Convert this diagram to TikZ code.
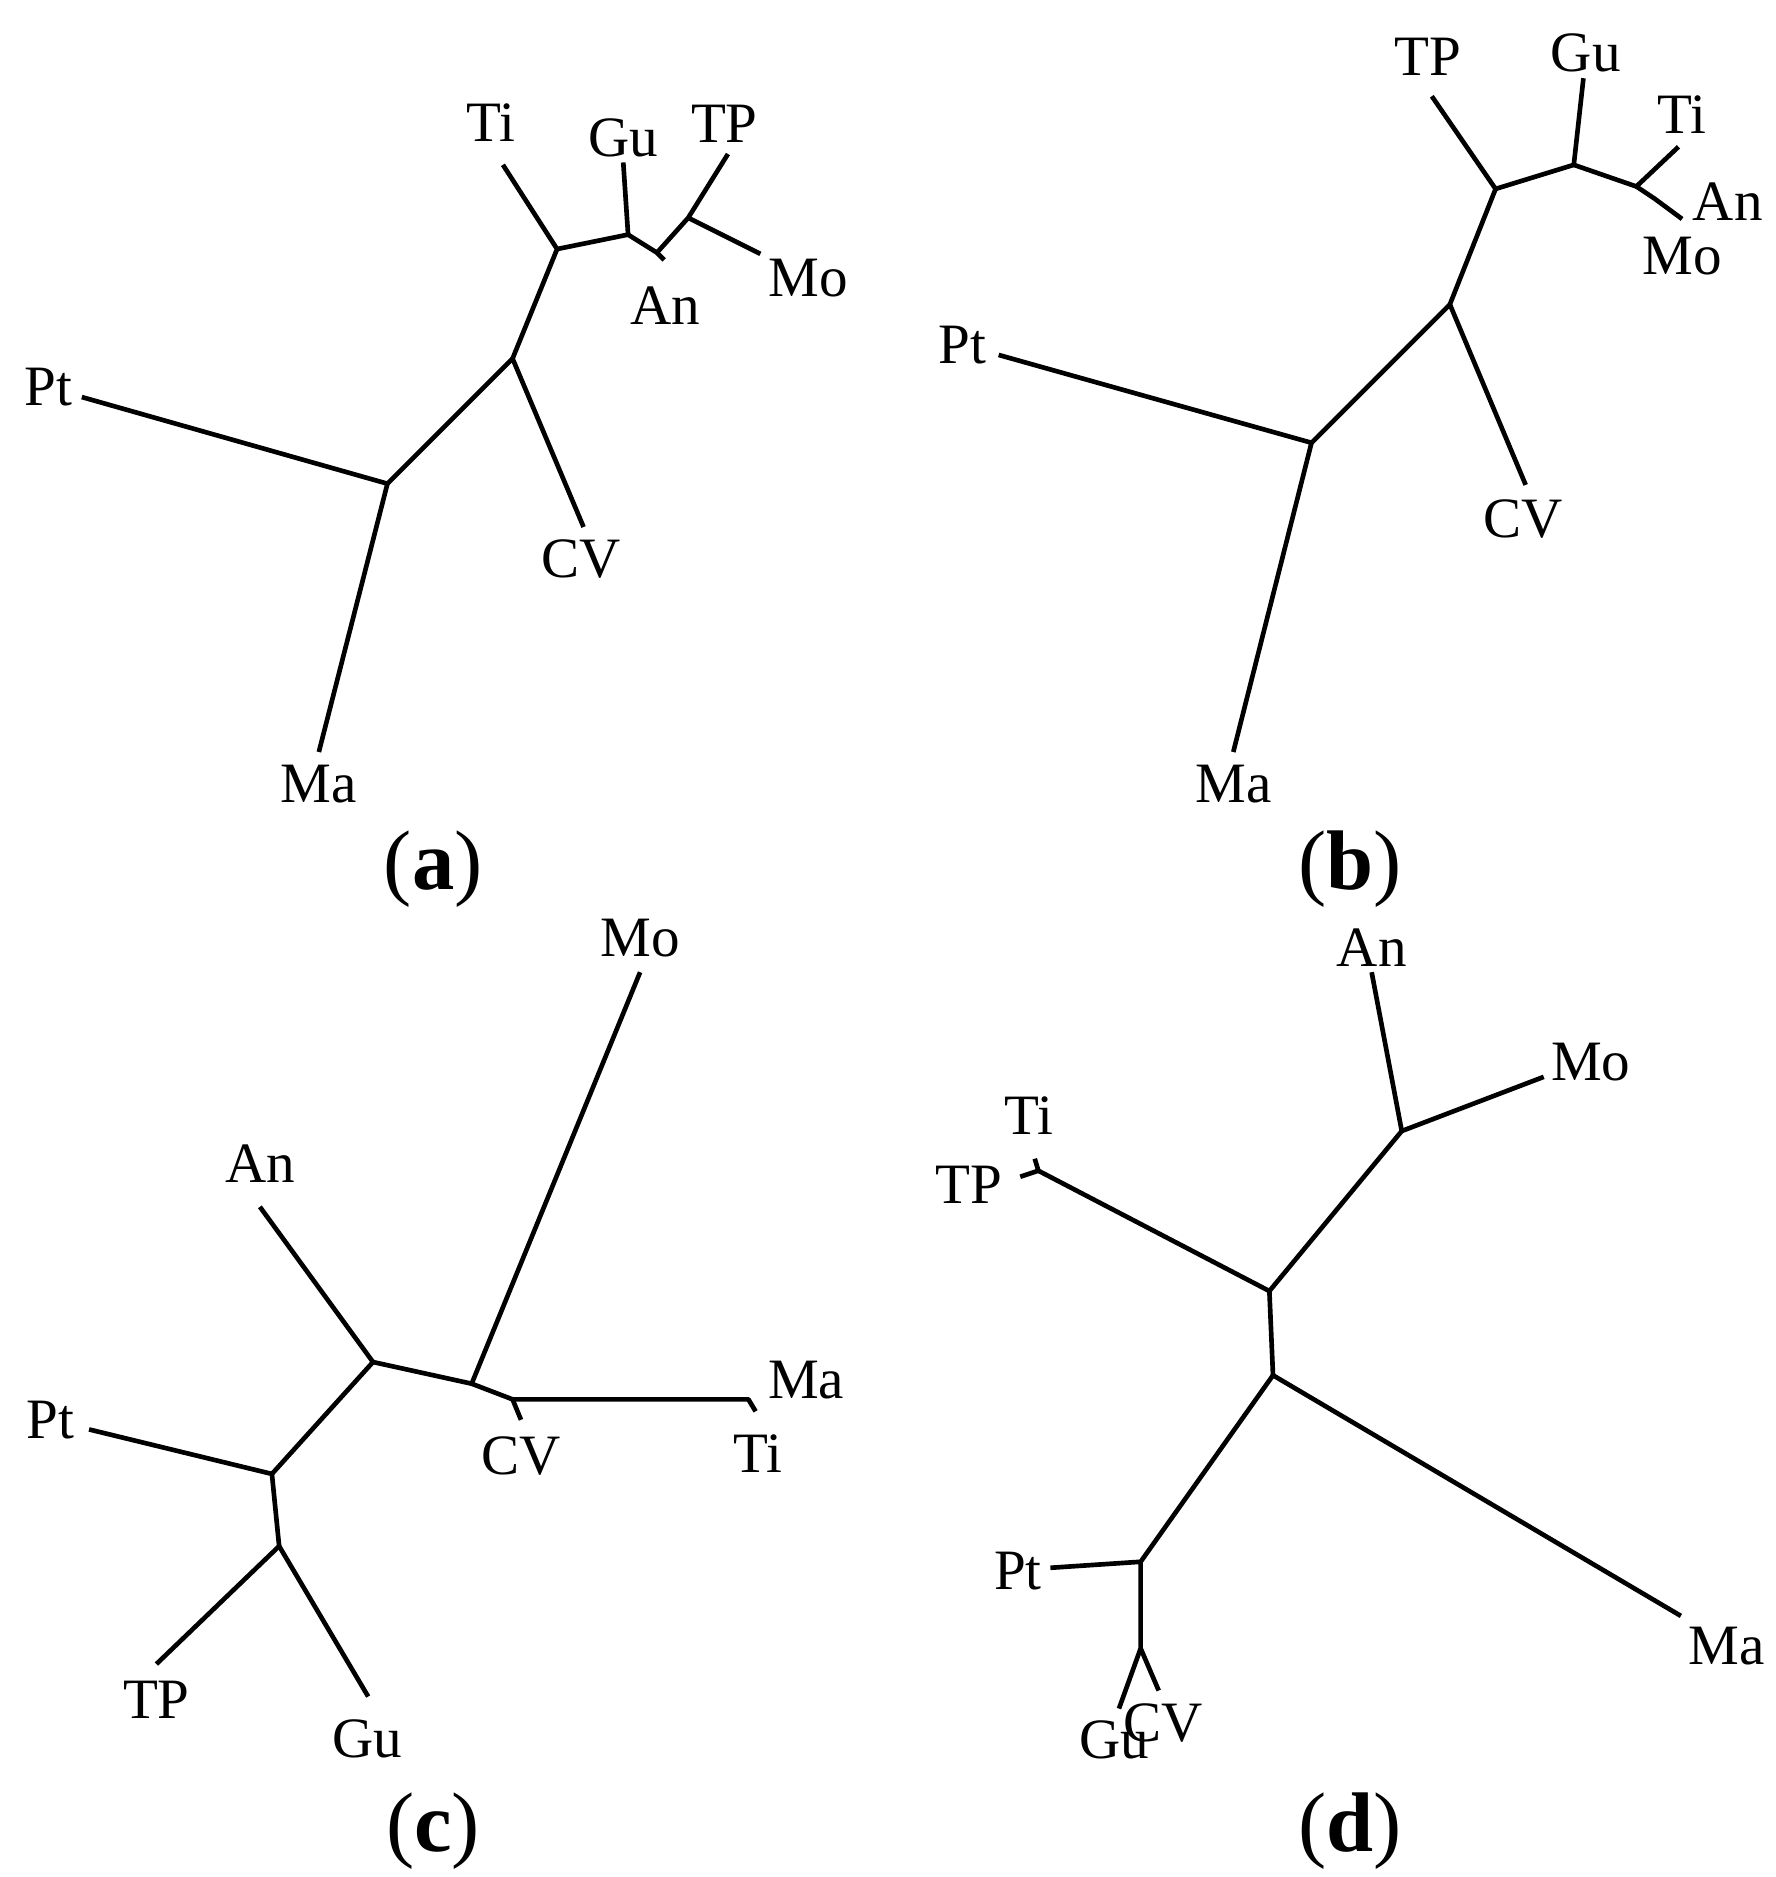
\documentclass[tikz,border=0pt]{standalone}
\usepackage{fontspec}
\setmainfont{Liberation Serif}
\begin{document}
\begin{tikzpicture}[x=0.1mm, y=-0.1mm, line width=1.1pt, line join=round,
  taxon/.style = {font=\fontsize{13.5}{16}\selectfont, inner sep=0pt},
  panel/.style = {font=\fontsize{20}{24}\selectfont, inner sep=0pt}]
\useasboundingbox (0,0) rectangle (1476,1560);
% (a)
\coordinate (a1) at (322,402); \coordinate (a2) at (426,298);
\coordinate (a3) at (463,207); \coordinate (a4) at (522,195);
\coordinate (a5) at (546,210); \coordinate (a6) at (572,181);
\coordinate (aPt) at (68,330); \coordinate (aMa) at (265,625);
\coordinate (aCV) at (485,438); \coordinate (aTi) at (418,137);
\coordinate (aGu) at (518,135); \coordinate (aAn) at (552,216);
\coordinate (aTP) at (605,128); \coordinate (aMo) at (632,211);
\draw (aPt) -- (a1) -- (aMa);
\draw (a1) -- (a2) -- (aCV);
\draw (a2) -- (a3) -- (aTi);
\draw (a3) -- (a4) -- (aGu);
\draw (a4) -- (a5) -- (aAn);
\draw (a5) -- (a6) -- (aTP);
\draw (a6) -- (aMo);
\node[taxon] (lPta) at (40,322) {Pt};
\node[taxon] (lMaa) at (265,652) {Ma};
\node[taxon] (lCVa) at (483,465) {CV};
\node[taxon] (lTia) at (408,102) {Ti};
\node[taxon] (lGua) at (518,115) {Gu};
\node[taxon] (lAna) at (553,254) {An};
\node[taxon] (lTPa) at (602,103) {TP};
\node[taxon] (lMoa) at (672,231) {Mo};
\node[panel] (pa) at (360,722) {(\textbf{a})};
% (b)
\coordinate (b1) at (1090,368); \coordinate (b2) at (1205,253);
\coordinate (b3) at (1243,157); \coordinate (b4) at (1308,137);
\coordinate (b5) at (1360,155); \coordinate (b6) at (1375,165);
\coordinate (bPt) at (830,295); \coordinate (bMa) at (1025,625);
\coordinate (bCV) at (1268,403); \coordinate (bTP) at (1190,80);
\coordinate (bGu) at (1316,65); \coordinate (bTi) at (1395,122);
\coordinate (bAn) at (1398,182);
\draw (bPt) -- (b1) -- (bMa);
\draw (b1) -- (b2) -- (bCV);
\draw (b2) -- (b3) -- (bTP);
\draw (b3) -- (b4) -- (bGu);
\draw (b4) -- (b5) -- (bTi);
\draw (b5) -- (b6) -- (bAn);
\node[taxon] (lPtb) at (800,287) {Pt};
\node[taxon] (lMab) at (1025,652) {Ma};
\node[taxon] (lCVb) at (1266,431) {CV};
\node[taxon] (lTPb) at (1187,47) {TP};
\node[taxon] (lGub) at (1318,44) {Gu};
\node[taxon] (lTib) at (1398,95) {Ti};
\node[taxon] (lAnb) at (1436,168) {An};
\node[taxon] (lMob) at (1398,213) {Mo};
\node[panel] (pb) at (1122,722) {(\textbf{b})};
% (c)
\coordinate (c1) at (226,1225); \coordinate (c2) at (232,1285);
\coordinate (c3) at (310,1132); \coordinate (c4) at (392,1150);
\coordinate (c5) at (426,1163); \coordinate (c6) at (622,1163);
\coordinate (cPt) at (74,1188); \coordinate (cTP) at (130,1383);
\coordinate (cGu) at (306,1410); \coordinate (cAn) at (216,1003);
\coordinate (cMo) at (532,808); \coordinate (cCV) at (433,1180);
\coordinate (cMa) at (628,1173);
\draw (cPt) -- (c1) -- (c2) -- (cTP);
\draw (c2) -- (cGu);
\draw (c1) -- (c3) -- (cAn);
\draw (c3) -- (c4) -- (cMo);
\draw (c4) -- (c5) -- (cCV);
\draw (c5) -- (c6) -- (cMa);
\node[taxon] (lPtc) at (42,1180) {Pt};
\node[taxon] (lTPc) at (130,1413) {TP};
\node[taxon] (lGuc) at (305,1445) {Gu};
\node[taxon] (lAnc) at (216,967) {An};
\node[taxon] (lMoc) at (532,780) {Mo};
\node[taxon] (lCVc) at (433,1210) {CV};
\node[taxon] (lMac) at (670,1147) {Ma};
\node[taxon] (lTic) at (630,1208) {Ti};
\node[panel] (pc) at (360,1522) {(\textbf{c})};
% (d)
\coordinate (d1) at (1055,1073); \coordinate (d2) at (1058,1143);
\coordinate (d3) at (1165,940); \coordinate (d4) at (863,973);
\coordinate (d5) at (948,1298); \coordinate (d6) at (948,1370);
\coordinate (dAn) at (1140,808); \coordinate (dMo) at (1283,895);
\coordinate (dTi) at (860,963); \coordinate (dTP) at (848,978);
\coordinate (dMa) at (1397,1343); \coordinate (dPt) at (873,1303);
\coordinate (dGu) at (930,1420); \coordinate (dCV) at (963,1405);
\draw (d1) -- (d2);
\draw (d1) -- (d3) -- (dAn);
\draw (d3) -- (dMo);
\draw (d1) -- (d4) -- (dTi);
\draw (d4) -- (dTP);
\draw (d2) -- (dMa);
\draw (d2) -- (d5) -- (dPt);
\draw (d5) -- (d6) -- (dGu);
\draw (d6) -- (dCV);
\node[taxon] (lAnd) at (1140,788) {An};
\node[taxon] (lMod) at (1322,883) {Mo};
\node[taxon] (lTid) at (855,927) {Ti};
\node[taxon] (lTPd) at (805,985) {TP};
\node[taxon] (lMad) at (1435,1368) {Ma};
\node[taxon] (lPtd) at (846,1306) {Pt};
\node[taxon] (lGud) at (926,1446) {Gu};
\node[taxon] (lCVd) at (967,1432) {CV};
\node[panel] (pd) at (1122,1522) {(\textbf{d})};
\end{tikzpicture}
\end{document}
